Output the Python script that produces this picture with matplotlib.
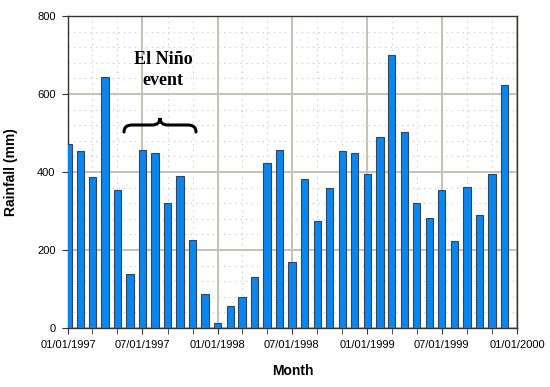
import pandas as pd
import matplotlib
matplotlib.use('Agg')
import matplotlib.pyplot as plt
import matplotlib.dates as mdates
from matplotlib.path import Path
from matplotlib.patches import PathPatch
from matplotlib.ticker import MultipleLocator

# monthly rainfall, Jan 1997 - Dec 1999
months = pd.date_range('1997-01-01', '1999-12-01', freq='MS')
rainfall = [473, 454, 386, 644, 355, 138, 456, 448, 321, 390, 225, 88,
            13, 56, 80, 130, 422, 456, 168, 381, 274, 360, 455, 450,
            395, 490, 701, 502, 320, 281, 355, 222, 362, 291, 395, 623]

plt.rcParams['font.family'] = 'Liberation Sans'

fig = plt.figure(figsize=(5.5, 3.87), dpi=100)
ax = fig.add_axes([68 / 550, 59 / 387, 449 / 550, 312 / 387])

ax.bar(months, rainfall, width=18, color='#0A86EE', edgecolor='#2F4560',
       linewidth=0.8, zorder=3)

ax.set_xlim(pd.Timestamp('1997-01-01'), pd.Timestamp('2000-01-01'))
ax.set_ylim(0, 800)

ax.xaxis.set_major_locator(mdates.MonthLocator(bymonth=[1, 7]))
ax.xaxis.set_minor_locator(mdates.MonthLocator(bymonth=[3, 5, 9, 11]))
ax.xaxis.set_major_formatter(mdates.DateFormatter('%m/%d/%Y'))
ax.yaxis.set_major_locator(MultipleLocator(200))
ax.yaxis.set_minor_locator(MultipleLocator(40))

ax.grid(which='major', color='#C4C2B4', linewidth=1.4, zorder=0)
ax.grid(which='minor', color='#C4C4C4', linewidth=0.8,
        linestyle=(0, (1, 4)), zorder=0)
ax.tick_params(axis='both', which='major', labelsize=8, length=4,
               color='#333333')
ax.tick_params(axis='x', which='major', pad=5)
ax.tick_params(axis='y', which='major', pad=5)
ax.tick_params(axis='x', which='minor', length=4, color='#333333')
ax.tick_params(axis='y', which='minor', length=0)
for s in ax.spines.values():
    s.set_color('#333333')
    s.set_linewidth(1.0)

ax.set_xlabel('Month', fontsize=10, fontweight='bold')
ax.set_ylabel('Rainfall (mm)', fontsize=10, fontweight='bold')
ax.xaxis.set_label_coords(0.5, -0.115)
ax.yaxis.set_label_coords(-0.112, 0.5)

ax.text(0.212, 0.827, 'El Niño\nevent', transform=ax.transAxes,
        family='Liberation Serif', fontsize=13, fontweight='bold',
        ha='center', va='center', linespacing=1.3)

# curly brace under the label (pixel positions -> axes fraction)
def ax_pt(px, py):
    return ((px - 68) / 449, (328 - py) / 312)

pts = [(124, 132), (124, 125), (132, 125), (152, 125), (160, 125), (160, 118),
       (160, 125), (168, 125), (188, 125), (196, 125), (196, 132)]
codes = [Path.MOVETO, Path.CURVE3, Path.CURVE3, Path.LINETO, Path.CURVE3,
         Path.CURVE3, Path.CURVE3, Path.CURVE3, Path.LINETO, Path.CURVE3,
         Path.CURVE3]
brace = Path([ax_pt(*p) for p in pts], codes)
ax.add_patch(PathPatch(brace, transform=ax.transAxes, fill=False,
                       linewidth=2.2, edgecolor='black', capstyle='round',
                       zorder=4))

plt.savefig('out.png', dpi=100)
